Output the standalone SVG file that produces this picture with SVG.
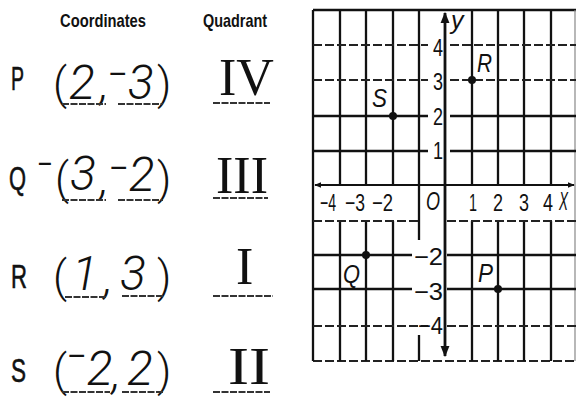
<svg xmlns="http://www.w3.org/2000/svg" width="576" height="402" viewBox="0 0 576 402">
<style>
.hdr{font-family:"Liberation Sans",Arial,sans-serif;font-size:19px;font-weight:bold;fill:#111}
.lbl{font-family:"Liberation Sans",Arial,sans-serif;font-size:33px;fill:#111;stroke:#111;stroke-width:0.6}
.par{font-family:"Roboto","DejaVu Sans",sans-serif;font-size:44px;fill:#111;font-weight:300}
.hw{font-family:"Roboto","DejaVu Sans",sans-serif;font-weight:300;font-style:italic;font-size:48px;fill:#111}
.dash{font-family:"Roboto","DejaVu Sans",sans-serif;font-weight:400;font-style:normal;font-size:30px;fill:#111}
.rom{font-family:"Liberation Serif","Times New Roman",serif;font-size:52px;fill:#111}
.ul{stroke:#333;stroke-width:2.2;stroke-dasharray:7 1.5}
.g{stroke:#111;stroke-width:2.3;fill:none}
.gd{stroke:#222;stroke-width:1.8;stroke-dasharray:9 3;fill:none}
.ax{stroke:#111;stroke-width:2.8;fill:none}
.num{font-family:"Liberation Sans",Arial,sans-serif;font-size:24px;fill:#111}
.pt{font-family:"Liberation Sans",Arial,sans-serif;font-style:italic;font-size:25px;fill:#111}
</style>
<defs>
<marker id="ah" viewBox="0 0 10 10" refX="9" refY="5" markerWidth="4" markerHeight="5" orient="auto-start-reverse">
<path d="M0,1 L10,5 L0,9 Z" fill="#111"/>
</marker>
</defs>
<rect width="576" height="402" fill="#fff"/>

<g id="table">
<text class="hdr" x="60" y="27" textLength="86" lengthAdjust="spacingAndGlyphs">Coordinates</text>
<text class="hdr" x="203" y="27" textLength="64" lengthAdjust="spacingAndGlyphs">Quadrant</text>

<g id="row-P">
<text class="lbl" x="11" y="90" textLength="13" lengthAdjust="spacingAndGlyphs">P</text>
<text class="par" x="53" y="99">(</text>
<text class="hw" x="69" y="99">2</text>
<text class="hw" x="100" y="99" font-size="30">,</text>
<text class="hw" x="108" y="99"><tspan class="dash" dy="-15">–</tspan><tspan dy="15">3</tspan></text>
<text class="par" x="157" y="99">)</text>
<line class="ul" x1="62" y1="104" x2="106" y2="104"/>
<line class="ul" x1="118" y1="104" x2="163" y2="104"/>
<text class="rom" x="219" y="95">IV</text>
<line class="ul" x1="213" y1="103" x2="270" y2="103"/>
</g>

<g id="row-Q">
<text class="lbl" x="9" y="190" textLength="17" lengthAdjust="spacingAndGlyphs">Q</text>
<text class="dash" x="37" y="174" textLength="16" lengthAdjust="spacingAndGlyphs">–</text>
<text class="par" x="55" y="194">(</text>
<text class="hw" x="70" y="190">3</text>
<text class="hw" x="100" y="194" font-size="30">,</text>
<text class="hw" x="109" y="191"><tspan class="dash" dy="-13">–</tspan><tspan dy="13">2</tspan></text>
<text class="par" x="157" y="194">)</text>
<line class="ul" x1="62" y1="200" x2="106" y2="200"/>
<line class="ul" x1="118" y1="200" x2="163" y2="200"/>
<text class="rom" x="216" y="193">III</text>
<line class="ul" x1="213" y1="198" x2="268" y2="198"/>
</g>

<g id="row-R">
<text class="lbl" x="11" y="288" textLength="16" lengthAdjust="spacingAndGlyphs">R</text>
<text class="par" x="53" y="292">(</text>
<text class="hw" x="72" y="290">1</text>
<text class="hw" x="104" y="293" font-size="30">,</text>
<text class="hw" x="120" y="290">3</text>
<text class="par" x="157" y="292">)</text>
<line class="ul" x1="65" y1="297" x2="107" y2="297"/>
<line class="ul" x1="122" y1="296" x2="163" y2="296"/>
<text class="rom" x="236" y="284">I</text>
<line class="ul" x1="213" y1="296" x2="273" y2="296"/>
</g>

<g id="row-S">
<text class="lbl" x="11" y="382" textLength="15" lengthAdjust="spacingAndGlyphs">S</text>
<text class="par" x="53" y="386">(</text>
<text class="hw" x="67" y="385"><tspan class="dash" font-size="22" dy="-19">–</tspan><tspan dy="19">2</tspan></text>
<text class="hw" x="112" y="388" font-size="30">,</text>
<text class="hw" x="127" y="385">2</text>
<text class="par" x="157" y="386">)</text>
<line class="ul" x1="62" y1="392" x2="110" y2="392"/>
<line class="ul" x1="122" y1="392" x2="163" y2="392"/>
<text class="rom" x="228" y="384" textLength="42" lengthAdjust="spacingAndGlyphs">II</text>
<line class="ul" x1="213" y1="392" x2="270" y2="392"/>
</g>
</g>

<g id="grid">
<line class="g" x1="313" y1="10" x2="576" y2="10"/>
<line class="gd" x1="313" y1="361" x2="576" y2="361"/>
<line class="g" x1="313" y1="10" x2="313" y2="361"/>
<line stroke="#888" stroke-width="1.2" x1="575" y1="10" x2="575" y2="361"/>
<path class="g" d="M340,10V185M340,221V361M366,10V185M366,221V361M393,10V185M393,221V361M419,10V221M419,221V240M419,335V361M472,10V185M472,221V361M498,10V185M498,221V361M524,10V185M524,221V361M551,10V185M551,221V361"/>
<path class="gd" d="M313,45H428M450,45H576M313,80H428M450,80H576M313,221H419M447,221H576M313,326H428M447,326H576"/>
<path class="g" d="M313,116H428M450,116H576M313,151H428M450,151H576M313,255H412M447,255H576M313,289H412M447,289H576"/>
<line class="ax" x1="445" y1="13" x2="445" y2="356" marker-start="url(#ah)" marker-end="url(#ah)"/>
<line stroke="#111" stroke-width="1.8" x1="315" y1="185" x2="574" y2="185" marker-start="url(#ah)" marker-end="url(#ah)"/>
<text class="pt" x="451" y="29">y</text>
<text class="num" x="433" y="56" textLength="10" lengthAdjust="spacingAndGlyphs">4</text>
<text class="num" x="433" y="90" textLength="10" lengthAdjust="spacingAndGlyphs">3</text>
<text class="num" x="433" y="125" textLength="10" lengthAdjust="spacingAndGlyphs">2</text>
<text class="num" x="433" y="159" textLength="10" lengthAdjust="spacingAndGlyphs">1</text>
<text class="num" x="414" y="265" textLength="29" lengthAdjust="spacingAndGlyphs">−2</text>
<text class="num" x="414" y="300" textLength="29" lengthAdjust="spacingAndGlyphs">−3</text>
<text class="num" x="418" y="334" textLength="25" lengthAdjust="spacingAndGlyphs">−4</text>
<text class="num" x="320" y="211" textLength="16" lengthAdjust="spacingAndGlyphs">−4</text>
<text class="num" x="345" y="211" textLength="20" lengthAdjust="spacingAndGlyphs">−3</text>
<text class="num" x="372" y="211" textLength="21" lengthAdjust="spacingAndGlyphs">−2</text>
<text class="pt" x="426" y="210" textLength="14" lengthAdjust="spacingAndGlyphs">O</text>
<text class="num" x="469" y="211" textLength="8" lengthAdjust="spacingAndGlyphs">1</text>
<text class="num" x="493" y="211" textLength="10" lengthAdjust="spacingAndGlyphs">2</text>
<text class="num" x="519" y="211" textLength="10" lengthAdjust="spacingAndGlyphs">3</text>
<text class="num" x="543" y="211" textLength="10" lengthAdjust="spacingAndGlyphs">4</text>
<text class="pt" x="559" y="210" textLength="9" lengthAdjust="spacingAndGlyphs">X</text>
</g>

<g id="point-R"><circle cx="472" cy="80" r="4" fill="#111"/><text class="pt" x="477" y="72" textLength="15" lengthAdjust="spacingAndGlyphs">R</text></g>
<g id="point-S"><circle cx="393" cy="116" r="4" fill="#111"/><text class="pt" x="372" y="107" textLength="15" lengthAdjust="spacingAndGlyphs">S</text></g>
<g id="point-Q"><circle cx="366" cy="255" r="4" fill="#111"/><text class="pt" x="343" y="283" textLength="17" lengthAdjust="spacingAndGlyphs">Q</text></g>
<g id="point-P"><circle cx="498" cy="289" r="4" fill="#111"/><text class="pt" x="478" y="282" textLength="15" lengthAdjust="spacingAndGlyphs">P</text></g>
</svg>
